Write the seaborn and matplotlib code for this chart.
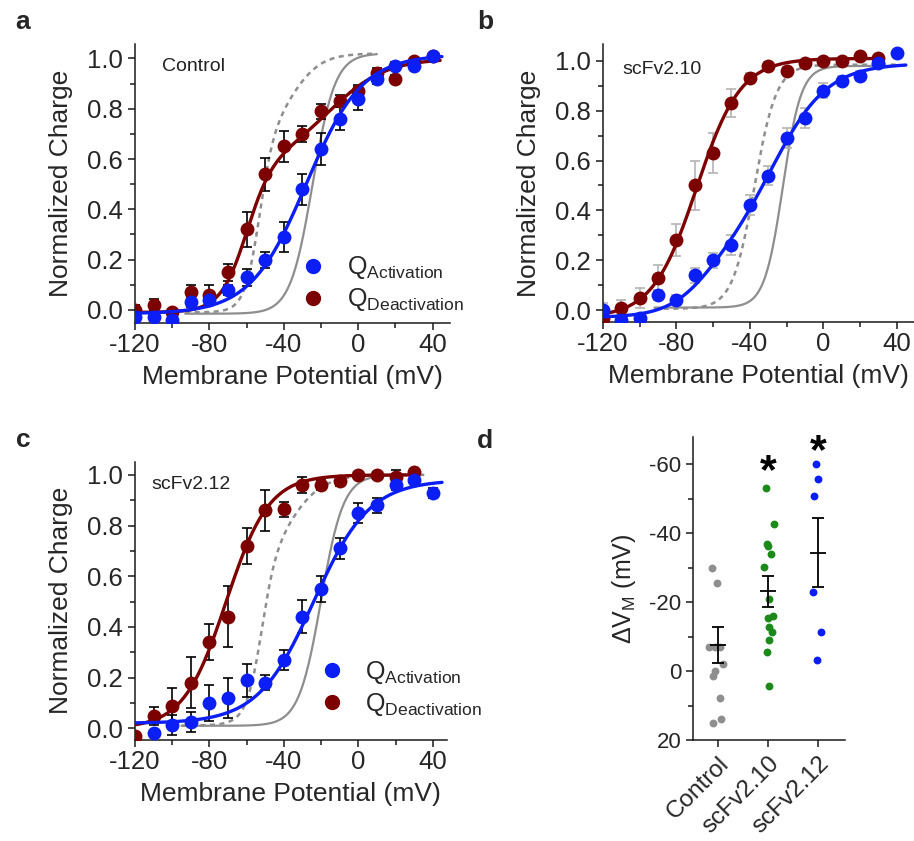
import numpy as np
import pandas as pd
import matplotlib
matplotlib.use("Agg")
import matplotlib.pyplot as plt
import seaborn as sns
from matplotlib.lines import Line2D
from matplotlib.ticker import MultipleLocator

# ---------------- data ----------------
V_full = [-120, -110, -100, -90, -80, -70, -60, -50, -40, -30, -20, -10, 0, 10, 20, 30, 40]

# panel a (Control)
a_act = [-0.03, -0.03, -0.04, 0.03, 0.04, 0.08, 0.13, 0.20, 0.29, 0.48, 0.64, 0.76, 0.84, 0.92, 0.97, 0.97, 1.01]
a_act_err = [0.01, 0.01, 0.01, 0.02, 0.02, 0.02, 0.033, 0.032, 0.058, 0.062, 0.062, 0.046, 0.046, 0.02, 0.017, 0.01, 0.01]
a_deact = [0.00, 0.02, -0.01, 0.07, 0.06, 0.15, 0.32, 0.54, 0.65, 0.70, 0.79, 0.83, 0.87, 0.94, 0.92, 0.99, 1.01]
a_deact_err = [0.02, 0.023, 0.01, 0.03, 0.04, 0.033, 0.07, 0.066, 0.06, 0.033, 0.03, 0.025, 0.026, 0.02, 0.015, 0.01, 0.01]

# panel b (scFv2.10)
b_act = [0.00, -0.04, -0.03, 0.06, 0.04, 0.14, 0.20, 0.26, 0.42, 0.54, 0.69, 0.77, 0.88, 0.92, 0.94, 0.99, 1.03]
b_act_err = [0.01, 0.01, 0.01, 0.02, 0.02, 0.03, 0.03, 0.04, 0.04, 0.04, 0.04, 0.04, 0.03, 0.02, 0.02, 0.01, 0.01]
V_b_deact = [-120, -110, -100, -90, -80, -70, -60, -50, -40, -30, -20, -10, 0, 10, 20, 30]
b_deact = [-0.03, 0.01, 0.05, 0.13, 0.28, 0.50, 0.63, 0.83, 0.93, 0.98, 0.96, 0.99, 1.00, 1.00, 1.02, 1.01]
b_deact_err = [0.06, 0.03, 0.04, 0.05, 0.065, 0.10, 0.08, 0.057, 0.02, 0.015, 0.015, 0.01, 0.01, 0.01, 0.01, 0.01]

# panel c (scFv2.12)
V_c_act = [-110, -100, -90, -80, -70, -60, -50, -40, -30, -20, -10, 0, 10, 20, 30, 40]
c_act = [-0.02, 0.013, 0.026, 0.10, 0.12, 0.19, 0.18, 0.27, 0.44, 0.55, 0.71, 0.85, 0.88, 0.96, 0.98, 0.93]
c_act_err = [0.01, 0.04, 0.04, 0.07, 0.08, 0.065, 0.03, 0.04, 0.065, 0.05, 0.04, 0.04, 0.03, 0.02, 0.01, 0.02]
V_c_deact = [-120, -110, -100, -90, -80, -70, -60, -50, -40, -30, -20, -10, 0, 10, 20, 30]
c_deact = [-0.03, 0.05, 0.09, 0.18, 0.34, 0.44, 0.72, 0.86, 0.865, 0.96, 0.96, 0.975, 1.00, 1.00, 0.99, 1.01]
c_deact_err = [0.01, 0.035, 0.07, 0.10, 0.07, 0.12, 0.07, 0.08, 0.03, 0.03, 0.02, 0.02, 0.01, 0.01, 0.03, 0.01]

# Boltzmann fit parameters: (A1, V1, k1, A2, V2, k2, offset, Vstart, Vend)
fit_a_act = (1.03, -28, 15, 0.0, 0, 1, -0.015, -120, 45)
fit_a_deact = (0.60, -60, 7, 0.41, -15, 15, -0.01, -120, 44)
ref_a_act = (1.035, -24.5, 6, 0.0, 0, 1, -0.015, -93, 10)
ref_a_deact = (0.72, -53, 4, 0.31, -35, 8, -0.01, -93, 10)

fit_b_act = (0.22, -65, 11, 0.80, -27, 15, -0.03, -120, 45)
fit_b_deact = (1.04, -69, 12, 0.0, 0, 1, -0.03, -120, 32)
ref_b_act = (0.97, -22, 5, 0.0, 0, 1, 0.01, -92, 40)
ref_b_deact = (0.98, -37.5, 6, 0.0, 0, 1, 0.005, -92, 40)

fit_c_act = (0.96, -24, 15, 0.0, 0, 1, 0.02, -120, 45)
fit_c_deact = (1.0, -71, 11.5, 0.0, 0, 1, 0.0, -120, 32)
ref_c_act = (0.99, -20, 6, 0.0, 0, 1, 0.01, -95, 35)
ref_c_deact = (0.65, -52, 4, 0.34, -36, 9, 0.01, -95, 35)

# panel d
groups = ["Control", "scFv2.10", "scFv2.12"]
d_control = [-29.8, -25.5, -6.9, -6.9, -6.9, -2.0, -0.1, 1.3, 7.9, 15.0, 14.0]
d_control_dx = [-0.12, -0.01, -0.17, -0.05, 0.05, 0.11, -0.05, -0.09, 0.05, -0.09, 0.07]
d_210 = [-53.2, -42.6, -36.8, -36.3, -33.9, -30.3, -20.9, -16.0, -15.3, -12.7, -11.2, -9.0, -5.5, 4.3]
d_210_dx = [-0.05, 0.11, -0.02, 0.0, 0.05, -0.09, 0.02, 0.09, -0.01, 0.01, 0.07, 0.01, -0.02, 0.02]
d_212 = [-60.0, -55.7, -50.8, -23.0, -11.2, -3.2]
d_212_dx = [-0.05, 0.0, -0.08, -0.10, 0.05, -0.02]
d_mean = [-7.6, -23.1, -34.4]
d_sem = [5.3, 4.4, 10.0]
d_sig = ["", "*", "*"]
d_sig_y = [0, -57.8, -63.6]

# ---------------- style ----------------
sns.set_style("ticks")
plt.rcParams["font.family"] = ["Liberation Sans", "DejaVu Sans"]
plt.rcParams["mathtext.fontset"] = "custom"
plt.rcParams["mathtext.rm"] = "Liberation Sans"
plt.rcParams["mathtext.it"] = "Liberation Sans:italic"
plt.rcParams["mathtext.bf"] = "Liberation Sans:bold"
plt.rcParams["axes.unicode_minus"] = False
plt.rcParams["axes.linewidth"] = 1.1
plt.rcParams["axes.edgecolor"] = "#1a1a1a"

BLUE = "#0a1ef5"
RED = "#7d0000"
GRAY = "#8e8e8e"
GREEN = "#1b8a1b"


def boltz(p):
    A1, V1, k1, A2, V2, k2, off, v0, v1 = p
    v = np.linspace(v0, v1, 300)
    q = off + A1 / (1 + np.exp((V1 - v) / k1)) + A2 / (1 + np.exp((V2 - v) / k2))
    return pd.DataFrame({"V": v, "Q": q})


fig = plt.figure(figsize=(9.14, 8.41), dpi=100)
ax_a = fig.add_axes([0.1477, 0.6159, 0.3446, 0.3317])
ax_b = fig.add_axes([0.6597, 0.6171, 0.3400, 0.3306])
ax_c = fig.add_axes([0.1477, 0.1201, 0.3410, 0.3309])
ax_d = fig.add_axes([0.7585, 0.1201, 0.1660, 0.3606])


def iv_panel(ax, V_act, act, act_err, V_deact, deact, deact_err,
             fit_act, fit_deact, ref_act, ref_deact, ecol, title, tpos, xlim, ylim):
    r1 = boltz(ref_act)
    r2 = boltz(ref_deact)
    sns.lineplot(data=r1, x="V", y="Q", ax=ax, color=GRAY, lw=1.6, estimator=None, sort=False, zorder=1)
    sns.lineplot(data=r2, x="V", y="Q", ax=ax, color=GRAY, lw=1.8, estimator=None, sort=False,
                 linestyle=(0, (2.0, 1.8)), zorder=1)
    ax.errorbar(V_deact, deact, yerr=deact_err, fmt="none", ecolor=ecol, elinewidth=1.2,
                capsize=3.5, capthick=1.2, zorder=2)
    ax.errorbar(V_act, act, yerr=act_err, fmt="none", ecolor=ecol, elinewidth=1.2,
                capsize=3.5, capthick=1.2, zorder=2)
    sns.scatterplot(x=V_deact, y=deact, ax=ax, color=RED, s=100, linewidth=0, zorder=3, legend=False)
    sns.lineplot(data=boltz(fit_deact), x="V", y="Q", ax=ax, color=RED, lw=2.4, estimator=None,
                 sort=False, zorder=4)
    sns.scatterplot(x=V_act, y=act, ax=ax, color=BLUE, s=100, linewidth=0, zorder=5, legend=False)
    sns.lineplot(data=boltz(fit_act), x="V", y="Q", ax=ax, color=BLUE, lw=2.4, estimator=None,
                 sort=False, zorder=6)
    ax.set_xlim(*xlim)
    ax.set_ylim(*ylim)
    ax.xaxis.set_major_locator(MultipleLocator(40))
    ax.xaxis.set_minor_locator(MultipleLocator(20))
    ax.yaxis.set_major_locator(MultipleLocator(0.2))
    ax.yaxis.set_minor_locator(MultipleLocator(0.1))
    ax.yaxis.set_major_formatter(matplotlib.ticker.FormatStrFormatter("%.1f"))
    ax.tick_params(which="major", direction="out", length=5, width=1.1, labelsize=18.5, color="#1a1a1a")
    ax.tick_params(which="minor", direction="out", length=3.5, width=1.1, color="#1a1a1a")
    ax.tick_params(axis="x", pad=2)
    ax.tick_params(axis="y", pad=4)
    ax.set_xlabel("Membrane Potential (mV)", fontsize=19, labelpad=6)
    ax.set_ylabel("Normalized Charge", fontsize=19, labelpad=10)
    ax.text(tpos[0], tpos[1], title, transform=ax.transAxes, fontsize=14, ha="left", va="center",
            color="#222222")
    sns.despine(ax=ax)


iv_panel(ax_a, V_full, a_act, a_act_err, V_full, a_deact, a_deact_err,
         fit_a_act, fit_a_deact, ref_a_act, ref_a_deact, "black", "Control", (0.086, 0.92),
         (-120, 49.3), (-0.052, 1.057))
iv_panel(ax_b, V_full, b_act, b_act_err, V_b_deact, b_deact, b_deact_err,
         fit_b_act, fit_b_deact, ref_b_act, ref_b_deact, "#b4b4b4", "scFv2.10", (0.064, 0.91),
         (-120, 49.3), (-0.048, 1.068))
iv_panel(ax_c, V_c_act, c_act, c_act_err, V_c_deact, c_deact, c_deact_err,
         fit_c_act, fit_c_deact, ref_c_act, ref_c_deact, "black", "scFv2.12", (0.054, 0.918),
         (-120, 47.5), (-0.046, 1.052))

leg_handles = [Line2D([], [], marker="o", ls="none", color=BLUE, markersize=10),
               Line2D([], [], marker="o", ls="none", color=RED, markersize=10)]
leg_labels = [r"Q$_{\mathrm{Activation}}$", r"Q$_{\mathrm{Deactivation}}$"]
for ax, anchor in [(ax_a, (0.525, 0.14)), (ax_c, (0.591, 0.185))]:
    ax.legend(leg_handles, leg_labels, loc="center left", bbox_to_anchor=anchor, frameon=False,
              fontsize=18, handlelength=1.0, handletextpad=0.85, labelspacing=0.2,
              borderpad=0, borderaxespad=0)

# ---------------- panel d ----------------
colors_d = [GRAY, GREEN, BLUE]
for i, (vals, dx) in enumerate([(d_control, d_control_dx), (d_210, d_210_dx), (d_212, d_212_dx)]):
    xs = [i + o for o in dx]
    sns.scatterplot(x=xs, y=vals, ax=ax_d, color=colors_d[i], s=32, linewidth=0, zorder=2, legend=False)
ax_d.errorbar(range(3), d_mean, yerr=d_sem, fmt="_", color="black", ecolor="black", markersize=11,
              mew=1.3, elinewidth=1.3, capsize=4.5, capthick=1.3, zorder=3)
for i, (s, y) in enumerate(zip(d_sig, d_sig_y)):
    if s:
        ax_d.text(i, y, s, ha="center", va="center", fontsize=31, fontweight="bold", color="black")
ax_d.set_ylim(20, -68)
ax_d.set_xlim(-0.49, 2.53)
ax_d.yaxis.set_major_locator(MultipleLocator(20))
ax_d.yaxis.set_minor_locator(MultipleLocator(10))
ax_d.set_xticks(range(3))
ax_d.set_xticklabels(groups, rotation=45, ha="right", rotation_mode="anchor")
ax_d.tick_params(which="major", direction="out", length=5, width=1.1, labelsize=16, color="#1a1a1a")
ax_d.tick_params(axis="x", labelsize=17.5)
ax_d.tick_params(which="minor", direction="out", length=3.5, width=1.1, color="#1a1a1a")
ax_d.tick_params(axis="x", pad=4)
ax_d.set_ylabel(r"$\Delta$V$_{\mathrm{M}}$ (mV)", fontsize=18, labelpad=8)
sns.despine(ax=ax_d)

# panel letters
for lab, (x, y) in {"a": (0.025, 0.974), "b": (0.531, 0.974), "c": (0.025, 0.477), "d": (0.531, 0.476)}.items():
    fig.text(x, y, lab, fontsize=19, fontweight="bold", ha="center", va="center")

fig.savefig("out.png", dpi=100)
